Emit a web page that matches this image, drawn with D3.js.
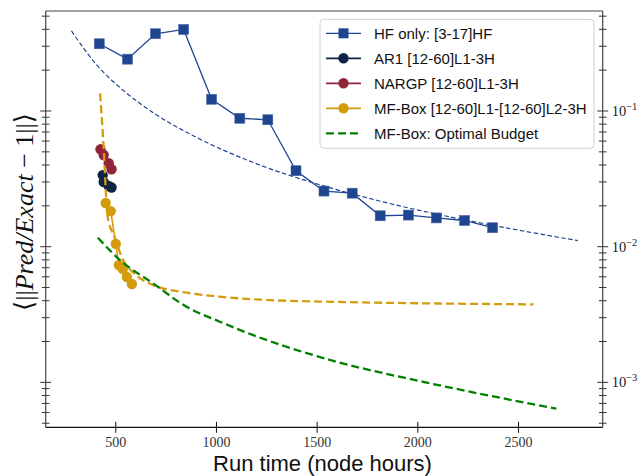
<!DOCTYPE html>
<html>
<head>
<meta charset="utf-8">
<script src="https://cdn.jsdelivr.net/npm/d3@7/dist/d3.min.js"></script>
<style>
  html, body { margin: 0; padding: 0; background: #fff; }
  svg { display: block; }
</style>
</head>
<body>
<svg id="chart" width="642" height="476"></svg>
<script>
// ---- data (run time in node hours, relative error) ----
const hfTime = [418, 558, 697, 837, 976, 1116, 1255, 1395, 1534, 1674, 1813, 1953, 2092, 2232, 2371];
const hfErr  = [0.313, 0.241, 0.371, 0.399, 0.122, 0.0884, 0.0862, 0.0363, 0.0257, 0.0248, 0.0169, 0.0171, 0.0163, 0.0156, 0.0138];

const hfFitTime = [280, 400, 550, 700, 900, 1200, 1500, 1800, 2100, 2400, 2794];
const hfFitErr  = [0.389, 0.223, 0.137, 0.0942, 0.0640, 0.0408, 0.0290, 0.0219, 0.0173, 0.0141, 0.0111];

const ar1Time = [435, 440, 465, 479];
const ar1Err  = [0.0337, 0.0300, 0.0280, 0.0273];

const nargpTime = [424, 440, 465, 479];
const nargpErr  = [0.0522, 0.0474, 0.0412, 0.0372];

const mfTime = [450, 475, 500, 515, 535, 555, 580];
const mfErr  = [0.0210, 0.0183, 0.0105, 0.00733, 0.00685, 0.00598, 0.00531];

const mfFitTime = [422, 437, 460, 485, 500, 525, 600, 685, 851, 1017, 1265, 1596, 2000, 2574];
const mfFitErr  = [0.135, 0.0633, 0.0165, 0.0126, 0.0112, 0.00869, 0.0062, 0.00522, 0.00458, 0.00428, 0.00404, 0.00392, 0.00383, 0.00376];

const optTime = [411, 520, 685, 851, 1017, 1182, 1348, 1596, 2026, 2688];
const optErr  = [0.01164, 0.00798, 0.00537, 0.00361, 0.0028, 0.00223, 0.00183, 0.00142, 0.00101, 0.00064];

const xTicks = [500, 1000, 1500, 2000, 2500];
const yMajor = [1e-3, 1e-2, 1e-1];
const yMajorExp = ["\u22123", "\u22122", "\u22121"];

const legendLabels = [
  "HF only: [3-17]HF",
  "AR1 [12-60]L1-3H",
  "NARGP [12-60]L1-3H",
  "MF-Box [12-60]L1-[12-60]L2-3H",
  "MF-Box: Optimal Budget"
];

// ---- styles ----
const C = {
  hf: "#1f4591",
  ar1: "#0f2345",
  nargp: "#902438",
  mf: "#d49c0c",
  opt: "#008000"
};

const svg = d3.select("#chart");
const L = 45.7, R = 602.7, T = 11, B = 427.3;

const x = d3.scaleLinear().domain([152, 2918]).range([L, R]);
const y = d3.scaleLog().domain([Math.pow(10, -3.331), Math.pow(10, -0.263)]).range([B, T]);

const zip = (xs, ys) => xs.map((v, i) => [v, ys[i]]);
const line = d3.line().x(d => x(d[0])).y(d => y(d[1]));
const smooth = d3.line().x(d => x(d[0])).y(d => y(d[1])).curve(d3.curveMonotoneX);

const plot = svg.append("g");

// HF only
plot.append("path").datum(zip(hfTime, hfErr)).attr("d", line)
  .attr("fill", "none").attr("stroke", C.hf).attr("stroke-width", 1.3);
plot.append("g").selectAll("rect").data(zip(hfTime, hfErr)).join("rect")
  .attr("x", d => x(d[0]) - 5).attr("y", d => y(d[1]) - 5)
  .attr("width", 10).attr("height", 10)
  .attr("fill", C.hf).attr("stroke", "#4a68a8").attr("stroke-width", 0.6);
// HF power-law fit
plot.append("path").datum(zip(hfFitTime, hfFitErr)).attr("d", smooth)
  .attr("fill", "none").attr("stroke", C.hf).attr("stroke-width", 1.2)
  .attr("stroke-dasharray", "4.5,2.5");

function circles(xs, ys, col) {
  plot.append("path").datum(zip(xs, ys)).attr("d", line)
    .attr("fill", "none").attr("stroke", col).attr("stroke-width", 1.6);
  plot.append("g").selectAll("circle").data(zip(xs, ys)).join("circle")
    .attr("cx", d => x(d[0])).attr("cy", d => y(d[1])).attr("r", 5.2)
    .attr("fill", col);
}
circles(ar1Time, ar1Err, C.ar1);
circles(nargpTime, nargpErr, C.nargp);
circles(mfTime, mfErr, C.mf);

// MF-Box fit
plot.append("path").datum(zip(mfFitTime, mfFitErr)).attr("d", smooth)
  .attr("fill", "none").attr("stroke", C.mf).attr("stroke-width", 2.3)
  .attr("stroke-dasharray", "8,4");
// optimal budget
plot.append("path").datum(zip(optTime, optErr)).attr("d", smooth)
  .attr("fill", "none").attr("stroke", C.opt).attr("stroke-width", 2.3)
  .attr("stroke-dasharray", "8,4");

// ---- axes ----
const minorTicks = [];
for (let k = -4; k <= 0; k++) for (let m = 1; m <= 9; m++) {
  const v = m * Math.pow(10, k);
  if (v >= y.domain()[0] && v <= y.domain()[1]) minorTicks.push(v);
}
const isMajor = v => yMajor.some(t => Math.abs(t - v) / t < 1e-6);

const axG = svg.append("g");
// frame
axG.append("line").attr("x1", L).attr("x2", R).attr("y1", T).attr("y2", T).attr("stroke", "#444").attr("stroke-width", 1.2);
axG.append("line").attr("x1", L).attr("x2", L).attr("y1", T).attr("y2", B).attr("stroke", "#444").attr("stroke-width", 1.2);
axG.append("line").attr("x1", R).attr("x2", R).attr("y1", T).attr("y2", B).attr("stroke", "#444").attr("stroke-width", 1.2);
axG.append("line").attr("x1", L).attr("x2", R).attr("y1", B).attr("y2", B).attr("stroke", "#111").attr("stroke-width", 1.3);

// y ticks on both sides (in-out)
[L, R].forEach(sx => {
  axG.append("g").selectAll("line").data(minorTicks).join("line")
    .attr("x1", d => sx - (isMajor(d) ? 5.5 : 3.8))
    .attr("x2", d => sx + (isMajor(d) ? 5.5 : 3.8))
    .attr("y1", d => y(d)).attr("y2", d => y(d))
    .attr("stroke", "#333").attr("stroke-width", 1);
});
// right labels
const yl = axG.append("g").selectAll("text").data(yMajor).join("text")
  .attr("x", R + 9).attr("y", d => y(d) + 5)
  .attr("font-family", "Liberation Serif, DejaVu Serif, serif")
  .attr("font-size", 14.5).attr("fill", "#222");
yl.append("tspan").text("10");
yl.append("tspan").attr("dy", -6).attr("font-size", 10.5).text((d, i) => yMajorExp[i]);

// x ticks
axG.append("g").selectAll("line").data(xTicks).join("line")
  .attr("x1", d => x(d)).attr("x2", d => x(d))
  .attr("y1", B - 5.5).attr("y2", B + 5.5)
  .attr("stroke", "#111").attr("stroke-width", 1);
axG.append("g").selectAll("text").data(xTicks).join("text")
  .attr("x", d => x(d)).attr("y", B + 19.5).attr("text-anchor", "middle")
  .attr("font-family", "Liberation Serif, DejaVu Serif, serif")
  .attr("font-size", 14).attr("fill", "#333").text(d => d);

// axis titles
svg.append("text").attr("x", 322.5).attr("y", 471).attr("text-anchor", "middle")
  .attr("font-family", "Liberation Sans, Arial, sans-serif").attr("font-size", 22)
  .attr("fill", "#111").text("Run time (node hours)");

const yt = svg.append("text").attr("transform", "translate(33,212) rotate(-90)")
  .attr("text-anchor", "middle")
  .attr("font-family", "Liberation Serif, DejaVu Serif, serif").attr("font-size", 26)
  .attr("fill", "#111");
yt.append("tspan").attr("font-weight", 300).text("\u27E8||");
yt.append("tspan").attr("font-style", "italic").text("Pred/Exact");
yt.append("tspan").attr("font-weight", 300).text(" \u2212 1||\u27E9");

// ---- legend ----
const lg = svg.append("g");
lg.append("rect").attr("x", 320).attr("y", 19.3).attr("width", 274).attr("height", 129)
  .attr("rx", 4).attr("fill", "#fff").attr("fill-opacity", 0.85)
  .attr("stroke", "#d0d0d0").attr("stroke-width", 1);
const rows = [
  { c: C.hf, m: "square", dash: null },
  { c: C.ar1, m: "circle", dash: null },
  { c: C.nargp, m: "circle", dash: null },
  { c: C.mf, m: "circle", dash: null },
  { c: C.opt, m: null, dash: "8,4" }
];
rows.forEach((r, i) => {
  const yy = 33.3 + i * 25;
  lg.append("line").attr("x1", 326).attr("x2", 361).attr("y1", yy).attr("y2", yy)
    .attr("stroke", r.c).attr("stroke-width", r.dash ? 2.3 : (i === 0 ? 1.3 : 1.8))
    .attr("stroke-dasharray", r.dash);
  if (r.m === "square") {
    lg.append("rect").attr("x", 338.5).attr("y", yy - 5).attr("width", 10).attr("height", 10).attr("fill", r.c);
  } else if (r.m === "circle") {
    lg.append("circle").attr("cx", 343.5).attr("cy", yy).attr("r", 5.2).attr("fill", r.c);
  }
  lg.append("text").attr("x", 374).attr("y", yy + 5.5)
    .attr("font-family", "Liberation Sans, Arial, sans-serif").attr("font-size", 15)
    .attr("fill", "#111").text(legendLabels[i]);
});
</script>
</body>
</html>
